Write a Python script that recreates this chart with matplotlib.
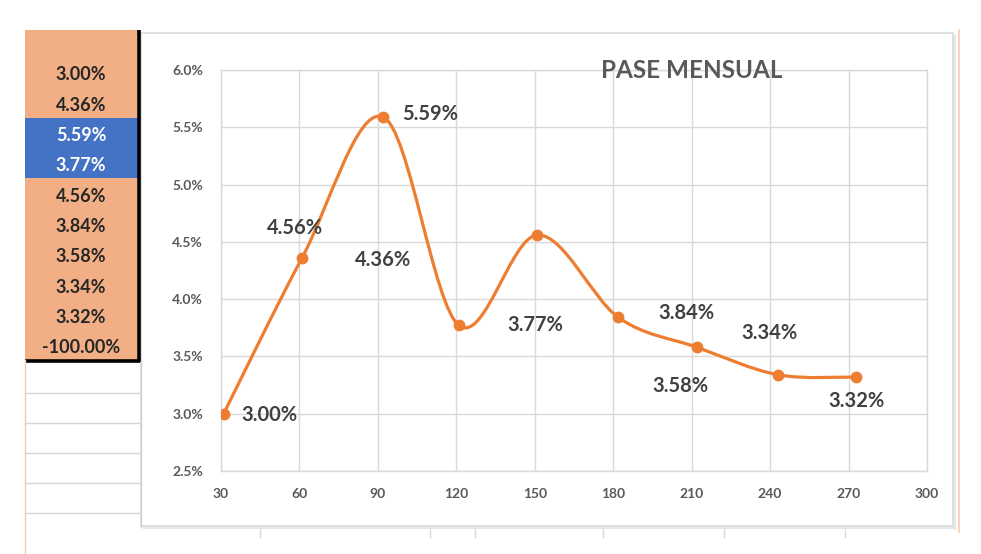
import numpy as np
import matplotlib.pyplot as plt
from matplotlib.path import Path
from matplotlib.patches import PathPatch, Rectangle
from matplotlib.ticker import FuncFormatter

plt.rcParams['font.family'] = ['Lato', 'DejaVu Sans']

# chart data
days = [31, 61, 92, 121, 151, 182, 212, 243, 273]
rate = [3.00, 4.36, 5.59, 3.77, 4.56, 3.84, 3.58, 3.34, 3.32]
point_labels = ['3.00%', '4.56%', '5.59%', '4.36%', '3.77%', '3.84%', '3.58%', '3.34%', '3.32%']

# spreadsheet column next to the chart
cell_values = ['3.00%', '4.36%', '5.59%', '3.77%', '4.56%', '3.84%', '3.58%', '3.34%', '3.32%', '-100.00%']
highlight_rows = [2, 3]

x_ticks = list(range(30, 301, 30))
y_ticks = [2.5, 3.0, 3.5, 4.0, 4.5, 5.0, 5.5, 6.0]

# label offsets in pixels from each point (as placed in the original)
label_offsets = [(46, -1), (-7, 30), (47, 3), (-76, 65), (-2, -90),
                 (68, 4), (-16, -39), (-8, 42), (0, -24)]

ORANGE = '#ED7D31'
GRID = '#D9D9D9'
TXT = '#404040'
W, H = 981, 554


def excel_smooth_path(xs, ys):
    # Catmull-Rom style bezier like Excel's "smoothed line"
    pts = np.column_stack([xs, ys]).astype(float)
    n = len(pts)
    verts = [pts[0]]
    codes = [Path.MOVETO]
    for i in range(n - 1):
        p0 = pts[max(i - 1, 0)]
        p1 = pts[i]
        p2 = pts[i + 1]
        p3 = pts[min(i + 2, n - 1)]
        c1 = p1 + (p2 - p0) / 6.0
        c2 = p2 - (p3 - p1) / 6.0
        verts += [c1, c2, p2]
        codes += [Path.CURVE4] * 3
    return Path(verts, codes)


fig = plt.figure(figsize=(W / 100, H / 100), dpi=100)

# background layer in pixel coordinates (sheet cells + chart frame)
bg = fig.add_axes([0, 0, 1, 1], zorder=0)
bg.set_xlim(0, W)
bg.set_ylim(H, 0)
bg.axis('off')

# chart area frame
bg.add_patch(Rectangle((141, 33), 812, 493, facecolor='white', edgecolor=GRID, lw=1.2))
bg.plot([955, 955], [36, 529], color='#E6E6E6', lw=1.5)
bg.plot([144, 955], [528, 528], color='#E6E6E6', lw=1.5)
for gx in [260, 430, 475, 603, 724, 845]:
    bg.plot([gx, gx], [529, 537], color=GRID, lw=1)
bg.plot([959, 959], [30, 532], color='#F8CBAD', lw=1.2)

# cells
bg.add_patch(Rectangle((25, 30), 113, 330, facecolor='#F2AF85', edgecolor='none'))
bg.add_patch(Rectangle((25, 118), 113, 60, facecolor='#4472C4', edgecolor='none'))
for i, val in enumerate(cell_values):
    col = 'white' if i in highlight_rows else '#262626'
    bg.text(81, 75 + 30.3 * i, val, ha='center', va='center', fontsize=13,
            fontweight='bold', color=col)
bg.plot([138.5, 138.5], [30, 362], color='black', lw=2.6, solid_capstyle='butt')
bg.plot([25, 140], [360.5, 360.5], color='black', lw=2.6, solid_capstyle='butt')
for gy in [393, 423, 453, 483, 513]:
    bg.plot([25, 139], [gy, gy], color='#D6D6D6', lw=1)
bg.plot([25, 25], [360, H], color='#F8CBAD', lw=1)
bg.plot([140.5, 140.5], [362, 527], color='#D0D0D0', lw=1)

# plot area
ax = fig.add_axes([221 / W, (H - 471) / H, 706 / W, 401 / H], zorder=1)
ax.set_facecolor('none')
ax.set_xlim(30, 300)
ax.set_ylim(2.5, 6.0)
ax.set_xticks(x_ticks)
ax.set_yticks(y_ticks)
ax.yaxis.set_major_formatter(FuncFormatter(lambda v, p: f'{v:.1f}%'))
ax.grid(True, color=GRID, lw=1)
ax.set_axisbelow(True)
for s in ax.spines.values():
    s.set_color(GRID)
    s.set_linewidth(1)
ax.tick_params(length=0, labelsize=10, labelcolor='#595959')
ax.tick_params(axis='y', pad=13)
ax.tick_params(axis='x', pad=12)
for lab in ax.get_xticklabels() + ax.get_yticklabels():
    lab.set_fontweight('bold')

ax.add_patch(PathPatch(excel_smooth_path(days, rate), facecolor='none',
                       edgecolor=ORANGE, lw=2.3, zorder=3))
ax.plot(days, rate, 'o', color=ORANGE, markersize=7.5, zorder=4)

for x, y, txt, off in zip(days, rate, point_labels, label_offsets):
    ax.annotate(txt, (x, y), xytext=off, textcoords='offset pixels',
                ha='center', va='center', fontsize=14.5, fontweight='bold',
                color=TXT, zorder=5)

# title sits on top of the plot area grid
fig.text(692 / W, 1 - 70 / H, 'PASE MENSUAL', ha='center', va='center',
         fontsize=17.5, fontweight='bold', color='#595959', zorder=10)

fig.savefig('out.png', dpi=100)
